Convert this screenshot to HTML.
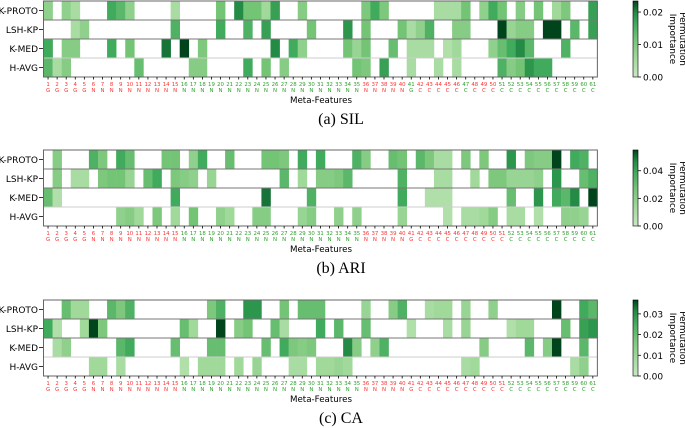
<!DOCTYPE html>
<html><head><meta charset="utf-8"><style>
html,body{margin:0;padding:0;background:#fff;}
svg{display:block;font-family:"DejaVu Sans","Liberation Sans",sans-serif;}
</style></head><body>
<svg id="fig" width="685" height="428" viewBox="0 0 685 428" xmlns="http://www.w3.org/2000/svg">
<defs>
<linearGradient id="cmap" x1="0" y1="1" x2="0" y2="0">
<stop offset="0" stop-color="#c7e9c0"/><stop offset="0.25" stop-color="#a1d99b"/><stop offset="0.5" stop-color="#74c476"/><stop offset="0.7" stop-color="#41ab5d"/><stop offset="0.85" stop-color="#238b45"/><stop offset="1" stop-color="#00441b"/>
</linearGradient>
</defs>
</svg>
<script>
const rowLabels = ["K-PROTO","LSH-KP","K-MED","H-AVG"];
const captions = ["(a) SIL","(b) ARI","(c) CA"];
const vmax = [0.0234, 0.055, 0.0367];
const cbTicks1 = [0.00,0.01,0.02];
const cbTicks2 = [0.00,0.02,0.04];
const cbTicks3 = [0.00,0.01,0.02,0.03];
const featType = Array.from({length:61},(_, i)=> (i<5||i===40)?"G":(i<40?"N":"C"));
const greenLabels1 = [16,17,18,19,20,21,22,23,24,25,26,27,28,29,30,31,32,33,34,35,41,47,51,52,53,54,55,56,57,58,59,60,61];
const greenLabels2 = [16,17,18,19,20,21,22,23,24,25,26,27,28,29,30,31,32,33,34,35,52,53,54,55,56,57,58,59,60,61];
const greenLabels3 = greenLabels2;
// values as fraction of each panel's colorbar maximum
const silKProto=[.35,0,.35,.2,0,0,0,.7,.6,.35, 0,0,0,0,.2,0,0,0,0,.5, 0,.85,.5,.5,.25,.75,0,0,.4,0, 0,0,0,0,0,.45,.7,.45,0,0, 0,0,0,.2,.2,.2,.5,0,.35,.7, .5,0,.4,0,.5,0,.25,.45,0,0, .75];
const silLshKp=[0,0,0,.2,.35,0,0,0,0,0, 0,0,0,0,.65,0,0,0,0,.7, 0,0,.65,0,.75,0,0,0,0,.5, 0,0,0,.8,0,.5,0,0,0,.5, .2,.35,.65,0,0,.4,.4,0,0,0, 1,.3,.4,.4,0,1,1,0,.6,0, .75];
const silKMed=[.7,0,.4,.4,0,0,0,.7,0,.5, 0,0,0,.9,0,1,0,.45,0,0, 0,0,0,0,0,.85,0,.7,.35,0, 0,0,0,.5,.3,.5,0,0,.55,0, .2,.2,.2,0,.15,.25,0,0,0,.35, .55,.7,.85,.6,0,0,0,.65,0,0, 0];
const silHAvg=[.6,.2,.4,0,0,0,0,0,0,0, .55,0,0,0,0,0,.4,.4,0,0, 0,0,.7,0,.5,0,.4,0,0,0, 0,0,0,0,.5,.45,0,.75,0,0, .2,0,0,.2,0,.2,0,0,0,0, .65,.4,.5,.8,.7,.7,0,0,0,0, 0];
const ariKProto=[0,.4,0,0,0,.65,.45,0,.7,.55, 0,0,0,.5,.5,0,.35,.7,0,0, .55,0,0,0,.5,.5,.45,0,.7,0, .7,0,0,0,.65,.4,0,0,.55,.5, 0,.6,.45,.2,.2,0,.45,0,.45,0, 0,.8,0,.45,.4,.4,1,0,.7,.65, 0];
const ariLshKp=[0,.4,0,.2,.2,0,.45,.5,.5,.3, 0,.55,.7,0,.45,.4,.35,0,.3,0, 0,0,0,0,0,0,.6,0,.25,0, .4,.4,.45,.6,0,0,0,0,0,.65, 0,0,0,.2,.2,0,0,.25,0,.45, .45,.3,.3,.3,.35,0,.8,0,0,.55, .65];
const ariKMed=[.55,.15,0,0,0,0,0,0,0,0, 0,0,0,0,.7,0,0,0,0,0, 0,0,0,0,.9,0,0,0,0,.65, 0,0,0,0,0,0,0,0,0,.7, 0,0,.15,.15,.15,0,0,0,0,0, 0,.55,0,0,.8,0,.7,.6,.85,0, 1];
const ariHAvg=[0,0,0,0,0,0,0,0,.35,.4, .25,0,.45,0,.25,0,.5,0,0,.35, .25,0,0,.4,.4,0,0,0,.3,.4, 0,0,.35,0,.35,0,0,0,0,.3, 0,0,0,0,.15,0,.2,.2,.25,.4, 0,.2,.2,0,.15,0,0,.35,.35,.3, 0];
const caKProto=[0,0,.55,.25,.25,0,0,.6,.45,.65, 0,0,0,0,0,0,0,0,.45,.65, 0,0,.8,.8,0,0,.5,0,.55,.55, .55,0,0,0,0,.3,0,0,.4,.65, 0,0,.2,.25,.25,0,.3,0,0,.35, 0,0,0,0,0,0,1,0,0,.7, .6];
const caLshKp=[.7,.15,0,0,.25,1,.45,0,0,0, 0,0,0,0,0,.55,.25,0,0,1, 0,.4,.5,0,0,.55,.2,0,0,0, .7,0,.6,0,0,.55,0,0,0,0, .15,0,0,0,.2,0,.3,0,0,0, 0,.15,.25,.25,0,0,0,.55,0,.75, .8];
const caKMed=[0,.2,.35,0,0,0,0,0,.6,.7, 0,0,0,0,.55,0,0,0,.55,.55, 0,0,0,0,.55,0,.7,.45,.4,.45, 0,0,0,.85,.4,0,.35,.65,0,0, 0,0,0,0,0,0,0,0,.4,0, 0,0,0,.6,0,.4,1,0,0,.6, 0];
const caHAvg=[0,0,0,0,0,.25,.25,0,.2,0, 0,0,0,0,0,.15,0,.25,.25,.25, 0,.25,0,.3,0,0,0,.2,.2,0, .25,.25,.3,.25,0,0,0,0,0,0, 0,0,0,0,0,0,.2,.25,0,0, 0,0,0,0,0,0,0,0,.2,.35, 0];

const panels=[
 {data:[silKProto,silLshKp,silKMed,silHAvg], ticks:cbTicks1, green:greenLabels1, name:"sil"},
 {data:[ariKProto,ariLshKp,ariKMed,ariHAvg], ticks:cbTicks2, green:greenLabels2, name:"ari"},
 {data:[caKProto,caLshKp,caKMed,caHAvg], ticks:cbTicks3, green:greenLabels3, name:"ca"}
];
const tops=[1,150,300];
const X0=43.5, CW=9.08, RH=19, NC=61;
const svg=document.getElementById('fig');
const NS="http://www.w3.org/2000/svg";
function mk(tag,attrs,parent){const e=document.createElementNS(NS,tag);for(const k in attrs)e.setAttribute(k,attrs[k]);(parent||svg).appendChild(e);return e;}
const stops=[[0,[199,233,192]],[0.25,[161,217,155]],[0.5,[116,196,118]],[0.7,[65,171,93]],[0.85,[35,139,69]],[1,[0,68,27]]];
function cmap(t){t=Math.max(0,Math.min(1,t));for(let i=1;i<stops.length;i++){if(t<=stops[i][0]){const a=stops[i-1],b=stops[i];const f=(t-a[0])/(b[0]-a[0]);const c=a[1].map((v,j)=>Math.round(v+(b[1][j]-v)*f));return `rgb(${c[0]},${c[1]},${c[2]})`;}}return "rgb(0,68,27)";}
function xScale(i){return X0+i*CW;}
panels.forEach((p,pi)=>{
  const top=tops[pi];
  const yScale=r=>top+r*RH;
  const g=mk('g',{});
  
  
  p.data.forEach((row,r)=>{
    row.forEach((v,c)=>{
      if(v<=0) return;
      const cell=mk('rect',{x:xScale(c),y:yScale(r),width:CW+0.3,height:RH,fill:cmap(v)},g);
      
      
    });
    const lbl=mk('text',{x:38,y:yScale(r)+RH/2+3.5,'text-anchor':'end','font-size':9,fill:'#000'});
    lbl.textContent=rowLabels[r];
    
    
    mk('line',{x1:39,x2:X0,y1:yScale(r)+RH/2,y2:yScale(r)+RH/2,stroke:'#000','stroke-width':0.8});
  });
  for(let r=1;r<4;r++){
    const sep=mk('line',{x1:X0,x2:xScale(NC),y1:yScale(r),y2:yScale(r),stroke:r===3?'#ccc':'#777','stroke-width':1});
    
    
  }
  const frame=mk('rect',{x:X0,y:top,width:NC*CW,height:4*RH,fill:'none',stroke:'#666','stroke-width':1});
  
  
  const yb=top+4*RH;
  for(let c=0;c<NC;c++){
    const cx=xScale(c)+CW/2;
    mk('line',{x1:cx,x2:cx,y1:yb,y2:yb+2.5,stroke:'#000','stroke-width':0.8});
    const col=p.green.includes(c+1)?'#2ca02c':'#ff3030';
    const t=mk('text',{x:cx,y:yb+9,'text-anchor':'middle','font-size':5.4,fill:col});
    t.textContent=String(c+1);
    
    
    const t2=mk('text',{x:cx,y:yb+15,'text-anchor':'middle','font-size':5.4,fill:col});
    t2.textContent=featType[c];
    
    
  }
  const xt=mk('text',{x:321,y:top+102,'text-anchor':'middle','font-size':8.7,fill:'#000'});
  xt.textContent="Meta-Features";
  
  
  const cap=mk('text',{x:341,y:top+123,'text-anchor':'middle','font-size':16,fill:'#000','font-family':'"Liberation Serif","DejaVu Serif",serif'});
  cap.textContent=captions[pi];
  
  
  const cb=mk('rect',{x:633,y:top,width:5,height:4*RH,fill:'url(#cmap)',stroke:'#000','stroke-width':0.6});
  
  
  p.ticks.forEach(tv=>{
    const ty=top+4*RH-(tv/vmax[pi])*4*RH;
    mk('line',{x1:638,x2:641,y1:ty,y2:ty,stroke:'#000','stroke-width':0.8});
    const tl=mk('text',{x:643,y:ty+3.5,'font-size':9,fill:'#000'});
    tl.textContent=tv.toFixed(2);
    
    
  });
  const cl=mk('text',{transform:`translate(674,${top+38}) rotate(90)`,'text-anchor':'middle','font-size':8.8,fill:'#000'});
  
  
  const s1=mk('tspan',{x:0,y:-6},cl); s1.textContent="Permutation";
  const s2=mk('tspan',{x:0,y:4},cl); s2.textContent="Importance";
});
</script>
</body></html>
